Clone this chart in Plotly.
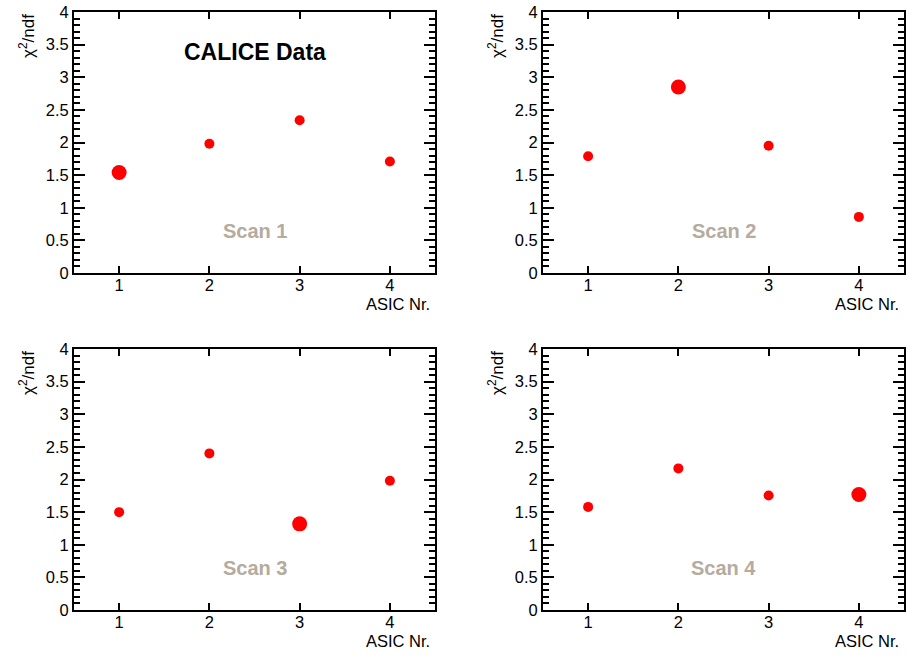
import plotly.graph_objects as go

# ---- data ----
asic = [1, 2, 3, 4]
scan_names = ["Scan 1", "Scan 2", "Scan 3", "Scan 4"]
scan1 = [1.54, 1.98, 2.34, 1.71]
scan2 = [1.79, 2.85, 1.95, 0.86]
scan3 = [1.50, 2.40, 1.32, 1.98]
scan4 = [1.58, 2.17, 1.755, 1.77]
highlight_asic = [1, 2, 3, 4]   # ASIC whose marker is drawn larger in each scan
xtick_vals = [1, 2, 3, 4]
ytick_vals = [0, 0.5, 1, 1.5, 2, 2.5, 3, 3.5, 4]

series = [scan1, scan2, scan3, scan4]

W, H = 906, 663
# panel pixel boxes (left, right, top, bottom)
boxes = [(74, 435, 12, 273), (543, 904, 12, 273),
         (74, 435, 349, 610), (543, 904, 349, 610)]

FONT = "Liberation Sans, Arial, Helvetica, sans-serif"
fig = go.Figure()
annotations = []

for i, (vals, name, hl, box) in enumerate(zip(series, scan_names, highlight_asic, boxes)):
    l, r, t, b = box
    xa = "xaxis" if i == 0 else f"xaxis{i+1}"
    ya = "yaxis" if i == 0 else f"yaxis{i+1}"
    xr = "x" if i == 0 else f"x{i+1}"
    yr = "y" if i == 0 else f"y{i+1}"
    sizes = [15 if a == hl else 10 for a in asic]
    fig.add_trace(go.Scatter(x=asic, y=vals, mode="markers",
                             marker=dict(color="#ff0000", size=sizes, opacity=1,
                                         line=dict(width=0)),
                             xaxis=xr, yaxis=yr, showlegend=False, hoverinfo="x+y"))
    fig.layout[xa] = dict(domain=[l / W, r / W], anchor=yr, range=[0.5, 4.5],
                          tickmode="array", tickvals=xtick_vals, automargin=False,
                          ticks="inside", ticklen=7, tickwidth=1.5, tickcolor="black",
                          showline=True, linecolor="black", linewidth=2, mirror="allticks",
                          showgrid=False, zeroline=False, ticklabelstandoff=-4,
                          tickfont=dict(family=FONT, size=16.5, color="black"))
    fig.layout[ya] = dict(domain=[(H - b) / H, (H - t) / H], anchor=xr, range=[0, 4],
                          tickmode="array", tickvals=ytick_vals, automargin=False,
                          ticks="inside", ticklen=11, tickwidth=1.5, tickcolor="black",
                          minor=dict(ticks="inside", dtick=0.1, ticklen=6, tickwidth=1.5,
                                     tickcolor="black", showgrid=False),
                          showline=True, linecolor="black", linewidth=2, mirror="allticks",
                          showgrid=False, zeroline=False,
                          tickfont=dict(family=FONT, size=16.5, color="black"))
    # scan label
    annotations.append(dict(x=2.5, y=0.65, xref=xr, yref=yr, text=f"<b>{name}</b>",
                            showarrow=False, font=dict(family=FONT, size=20, color="#b5ab9e")))
    # x title
    annotations.append(dict(x=(r - 3) / W, y=(H - (b + 31)) / H, xref="paper", yref="paper",
                            text="ASIC Nr.", xanchor="right", yanchor="middle", showarrow=False,
                            font=dict(family=FONT, size=16.5, color="black")))
    # y title
    annotations.append(dict(x=(l - 47) / W, y=(H - t) / H, xref="paper", yref="paper",
                            text="χ<sup>2</sup>/ndf", textangle=-90, xanchor="center",
                            yanchor="top", showarrow=False,
                            font=dict(family=FONT, size=17, color="black")))

annotations.append(dict(x=2.5, y=3.39, xref="x", yref="y", text="<b>CALICE Data</b>",
                        showarrow=False, font=dict(family=FONT, size=23, color="black")))

fig.update_layout(width=W, height=H, margin=dict(l=0, r=0, t=0, b=0, autoexpand=False),
                  paper_bgcolor="white", plot_bgcolor="white",
                  annotations=annotations, font=dict(family=FONT, size=17))

fig.write_html("out.html", config={"displayModeBar": False},
               post_script="document.body.style.margin='0';document.body.style.overflow='hidden';")
